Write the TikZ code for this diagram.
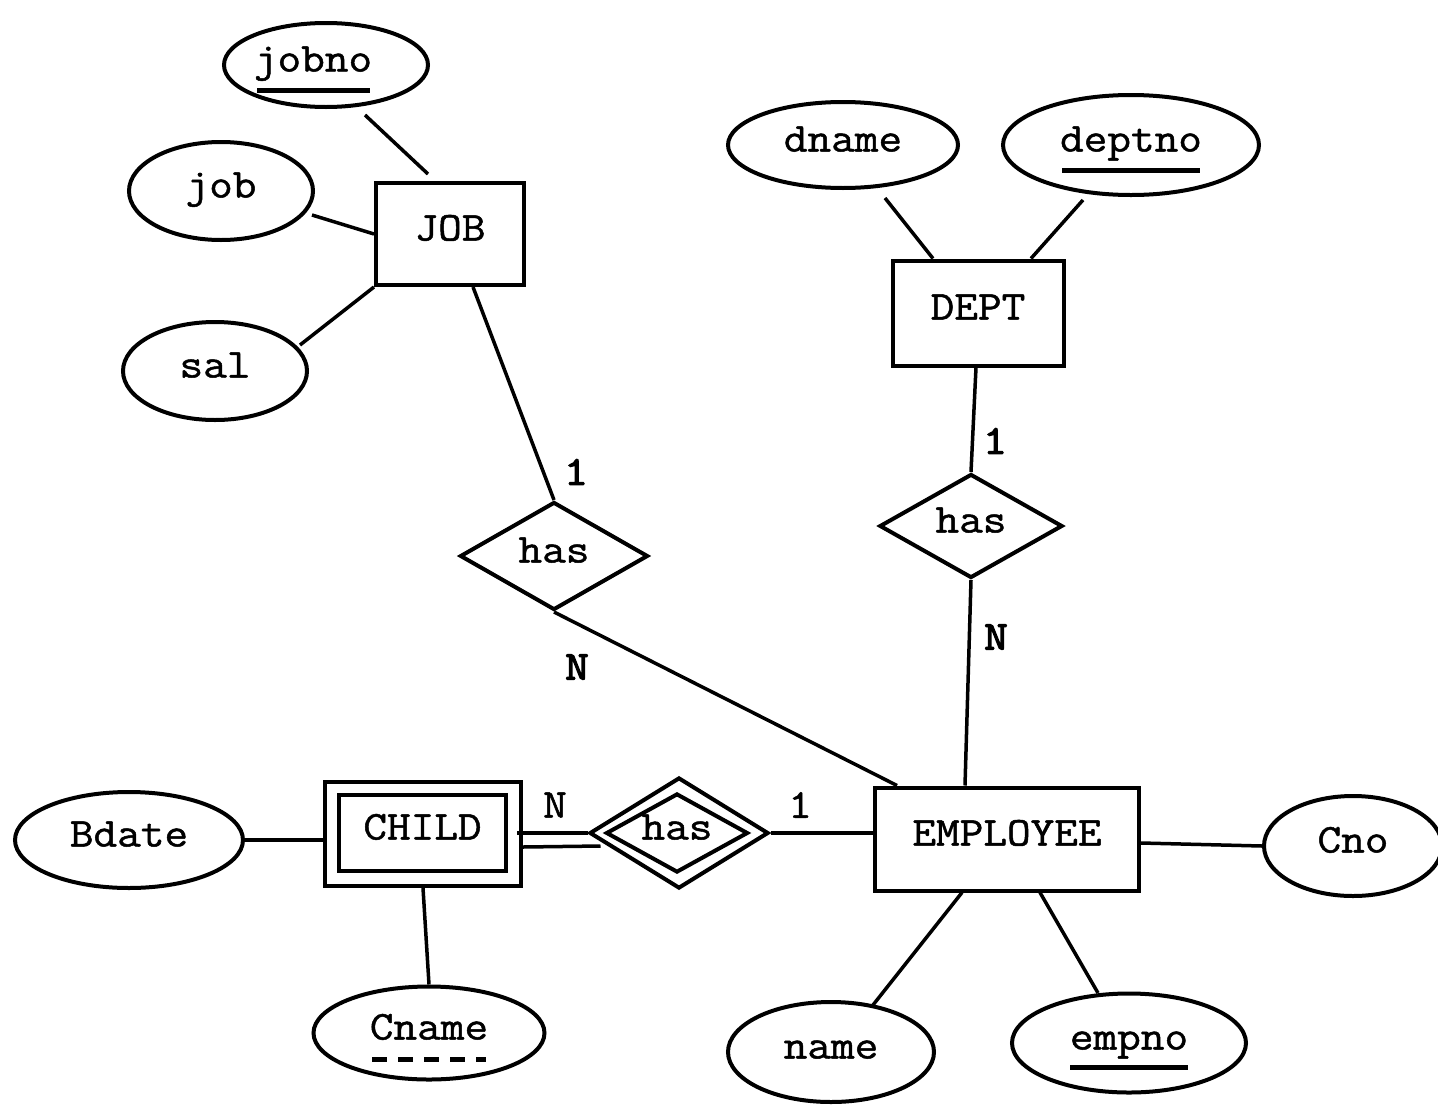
\documentclass[tikz,border=0pt]{standalone}
\usepackage{fontspec}
\newfontfamily\ermono{Latin Modern Mono}[FakeStretch=1.12, FakeBold=1.2]
\newfontfamily\ermonob{Latin Modern Mono}[FakeStretch=1.12, FakeBold=3]
\usetikzlibrary{shapes.geometric,calc}
\tikzset{
  base/.style={draw, line width=4pt, inner sep=0pt, font=\ermono\fontsize{41}{48}\selectfont, text height=23pt, text depth=10pt},
  attr/.style={base, ellipse},
  ent/.style={base, rectangle},
  rel/.style={base, diamond, aspect=1.72},
  conn/.style={line width=3.5pt},
  card/.style={font=\ermono\fontsize{41}{48}\selectfont, inner sep=0pt},
  cardb/.style={card, font=\ermonob\fontsize{41}{48}\selectfont},
  uline/.style={line width=5pt},
}
\begin{document}
\begin{tikzpicture}[x=1pt,y=-1pt]
\fill[white] (0,0) rectangle (1438,1106);
\clip (0,0) rectangle (1438,1106);
\useasboundingbox (0,0) rectangle (1438,1106);

% JOB side
\node[attr, minimum width=204, minimum height=84] (jobno) at (326,65) {\hspace*{-26pt}jobno};
\node[attr, minimum width=184, minimum height=98] (job) at (221,191) {job};
\node[attr, minimum width=184, minimum height=98] (sal) at (215,371) {sal};
\node[ent, minimum width=148, minimum height=102] (JOB) at (450,234) {JOB};
\node[rel, minimum width=188, minimum height=108] (has1) at (554,556) {has};

% DEPT side
\node[attr, minimum width=230, minimum height=86] (dname) at (843,145) {dname};
\node[attr, minimum width=256, minimum height=100] (deptno) at (1131,145) {deptno};
\node[ent, minimum width=171, minimum height=105] (DEPT) at (978,313) {DEPT};
\node[rel, minimum width=183, minimum height=104] (has2) at (971,526) {has};

% EMPLOYEE
\node[ent, minimum width=264, minimum height=103] (EMP) at (1007,839) {EMPLOYEE};
\node[attr, minimum width=178, minimum height=100] (Cno) at (1353,846) {Cno};
\node[attr, minimum width=206, minimum height=100] (name) at (831,1052) {name};
\node[attr, minimum width=234, minimum height=99] (empno) at (1129,1043) {empno};

% CHILD
\node[ent, minimum width=196, minimum height=104] (childO) at (423,834) {};
\node[ent, minimum width=167, minimum height=76] (childI) at (422.5,833) {CHILD};
\node[rel, minimum width=179, minimum height=111, aspect=1.6] (hasWo) at (679,833) {};
\node[rel, minimum width=142, minimum height=79, aspect=1.8] (hasWi) at (677,833) {has};
\node[attr, minimum width=228, minimum height=96] (Bdate) at (129,840) {Bdate};
\node[attr, minimum width=231, minimum height=93] (Cname) at (429,1033) {Cname};

% underlines
\draw[uline] ($(jobno.center)+(-69,25)$) -- ($(jobno.center)+(44,25)$);
\draw[uline] ($(deptno.center)+(-69,25)$) -- ($(deptno.center)+(69,25)$);
\draw[uline] ($(empno.center)+(-59,24)$) -- ($(empno.center)+(59,24)$);
\draw[uline, dash pattern=on 15pt off 11pt] ($(Cname.center)+(-57,26)$) -- ($(Cname.center)+(57,26)$);

% connectors
\draw[conn] ($(jobno.center)+(39,50)$) -- ($(JOB.north)+(-22,-7)$);
\draw[conn] ($(job.center)+(91,24)$) -- (JOB.west);
\draw[conn] ($(sal.center)+(85,-26)$) -- (JOB.south west);
\draw[conn] ($(JOB.south)+(23,0)$) -- (has1.north);
\draw[conn] (has1.south) -- ($(EMP.north)+(-110,0)$);
\draw[conn] ($(dname.center)+(42,53)$) -- ($(DEPT.north)+(-45,0)$);
\draw[conn] ($(deptno.center)+(-48,55)$) -- ($(DEPT.north)+(53,0)$);
\draw[conn] ($(DEPT.south)+(-2,0)$) -- (has2.north);
\draw[conn] (has2.south) -- ($(EMP.north)+(-42,0)$);
\draw[conn] (hasWo.east) -- (hasWo.east -| EMP.west);
\draw[conn] ($(EMP.east)+(0,4)$) -- (Cno.west);
\draw[conn] ($(EMP.south)+(-45,0)$) -- ($(name.center)+(42,-47)$);
\draw[conn] ($(EMP.south)+(33,0)$) -- ($(empno.center)+(-31,-50)$);
\draw[conn] (Bdate.east) -- (Bdate.east -| childO.west);
\draw[conn] (childO.south) -- (Cname.north);
\draw[conn] ($(childO.east)+(-6,-1)$) -- (hasWo.west);
\draw[conn] ($(childO.east)+(0,13)$) -- ($(hasWo.west)+(13,13)$);

% cardinalities
\node[cardb] (c1) at (576,472) {1};
\node[cardb] (c2) at (577,667) {N};
\node[cardb] (c3) at (995,441) {1};
\node[cardb] (c4) at (996,637) {N};
\node[card] (c5) at (555,805) {N};
\node[card] (c6) at (800,805) {1};
\end{tikzpicture}
\end{document}
